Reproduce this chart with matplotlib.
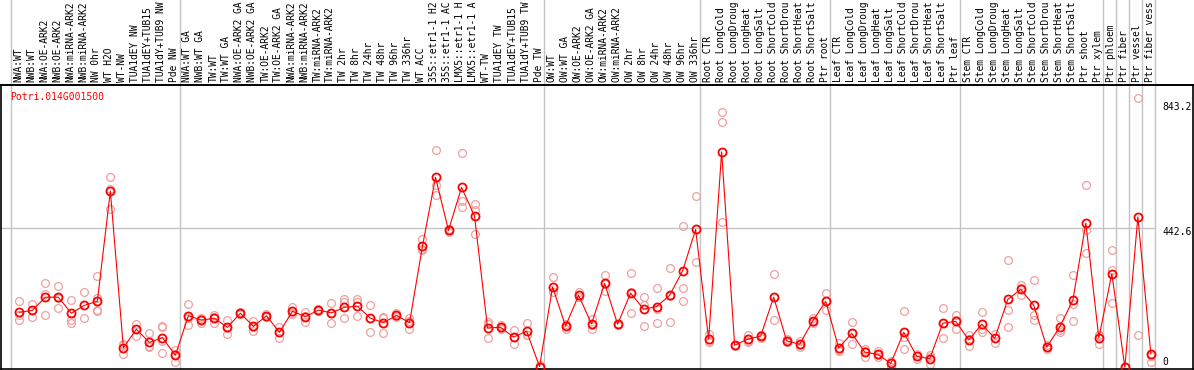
import matplotlib
matplotlib.use("Agg")
import matplotlib.pyplot as plt
from matplotlib.lines import Line2D

gene = "Potri.014G001500"

labels = ["NWA:WT", "NWB:WT", "NWA:OE-ARK2", "NWB:OE-ARK2", "NWA:miRNA-ARK2", "NWB:miRNA-ARK2",
          "NW 0hr", "WT H2O", "WT-NW", "TUA1dEY NW", "TUA1dEY+TUB15 NW", "TUA1dY+TUB9 NW", "Pde NW",
          "NWA:WT GA", "NWB:WT GA", "TW:WT", "TW:WT GA", "NWA:OE-ARK2 GA", "NWB:OE-ARK2 GA",
          "TW:OE-ARK2", "TW:OE-ARK2 GA", "NWA:miRNA-ARK2 GA", "NWB:miRNA-ARK2 GA", "TW:miRNA-ARK2",
          "TW:miRNA-ARK2 GA", "TW 2hr", "TW 8hr", "TW 24hr", "TW 48hr", "TW 96hr", "TW 336hr", "WT ACC",
          "35S::etr1-1 H2O", "35S::etr1-1 ACC", "LMX5::etr1-1 H2O", "LMX5::etr1-1 ACC", "WT-TW",
          "TUA1dEY TW", "TUA1dEY+TUB15 TW", "TUA1dY+TUB9 TW", "Pde TW",
          "OW:WT", "OW:WT GA", "OW:OE-ARK2", "OW:OE-ARK2 GA", "OW:miRNA-ARK2", "OW:miRNA-ARK2 GA",
          "OW 2hr", "OW 8hr", "OW 24hr", "OW 48hr", "OW 96hr", "OW 336hr",
          "Root CTR", "Root LongCold", "Root LongDrought", "Root LongHeat", "Root LongSalt",
          "Root ShortCold", "Root ShortDrought", "Root ShortHeat", "Root ShortSalt", "Ptr root",
          "Leaf CTR", "Leaf LongCold", "Leaf LongDrought", "Leaf LongHeat", "Leaf LongSalt",
          "Leaf ShortCold", "Leaf ShortDrought", "Leaf ShortHeat", "Leaf ShortSalt", "Ptr leaf",
          "Stem CTR", "Stem LongCold", "Stem LongDrought", "Stem LongHeat", "Stem LongSalt",
          "Stem ShortCold", "Stem ShortDrought", "Stem ShortHeat", "Stem ShortSalt", "Ptr shoot",
          "Ptr xylem", "Ptr phloem", "Ptr fiber", "Ptr vessel", "Ptr fiber vessel"]

means = [175, 181, 223, 223, 172, 197, 210, 561, 62, 121, 79, 94, 38,
         164, 150, 156, 127, 172, 130, 164, 111, 178, 161, 182, 173, 191, 194, 156, 142, 165, 142,
         386, 605, 436, 573, 482, 125, 127, 96, 115, 2,
         256, 131, 229, 138, 267, 137, 236, 185, 193, 229, 307, 439,
         89, 686, 70, 89, 99, 223, 84, 73, 147, 210,
         61, 108, 48, 41, 12, 111, 35, 27, 140, 146,
         87, 137, 92, 216, 248, 197, 64, 129, 213, 459, 93,
         298, 0, 479, 42]

reps = [[210, 150, 165], [200, 161, 182], [267, 234, 166], [259, 188, 222], [213, 150, 142], [239, 156],
        [291, 220, 182, 179], [605, 569, 503], [74, 41, 71], [139, 100, 122], [108, 63, 67],
        [132, 127, 84, 46], [55, 18, 41],
        [200, 134, 158], [158, 140, 153], [166, 142, 159], [150, 105, 126], [177, 170, 168],
        [147, 116, 128], [170, 161, 162], [129, 94, 111], [191, 170, 174], [177, 143, 163],
        [184, 180, 183], [204, 140, 174], [216, 208, 156], [217, 207, 162], [198, 111, 158],
        [161, 109, 156], [174, 159, 163], [156, 123, 147], [409, 376, 374], [691, 581, 548],
        [440, 432, 437], [683, 529, 510], [520, 501, 423], [145, 92, 138], [135, 121, 126],
        [119, 73, 97], [140, 103, 103], [6, 0, 0],
        [286, 241, 240], [134, 123, 137], [239, 225, 224], [155, 123, 135], [294, 243, 265],
        [138, 135, 137], [299, 172, 238], [223, 198, 130], [251, 186, 141], [315, 144, 228],
        [449, 251, 210], [546, 334],
        [105, 79, 83], [812, 780, 462], [70, 68, 71], [103, 79, 85], [103, 92, 103], [296, 149, 223],
        [89, 79, 85], [84, 65, 70], [158, 140, 144], [236, 182, 212],
        [78, 52, 54], [143, 73, 108], [58, 34, 51], [52, 34, 38], [21, 2, 14], [179, 58, 97],
        [41, 27, 36], [38, 10, 33], [188, 92, 140], [166, 123, 150],
        [103, 68, 90], [175, 113, 122], [105, 78, 93], [341, 181, 127], [263, 229, 253],
        [277, 165, 150], [71, 57, 65], [156, 111, 120], [293, 202, 147], [580, 436, 363],
        [104, 73, 102],
        [373, 310, 204], [0, 0], [857, 102], [41, 17, 37]]

# first sample of each group (vertical separators)
group_starts = [0, 13, 41, 53, 63, 73, 84, 85, 86, 87, 88]

ymax_label = "843.2"
ymid_label = "442.6"

W, H = 1194, 370
fig = plt.figure(figsize=(W / 100, H / 100), dpi=100)
# plot frame in pixels: x 1..1193, y 85..369 (from top)
ax = fig.add_axes([1 / W, (H - 369) / H, 1192 / W, 284 / H])

mono = "DejaVu Sans Mono"
grey = "#c4c4c4"
pink = "#f0a0a0"

x = list(range(len(means)))
ax.set_xlim(-1.407, 90.24)
ax.set_ylim(-5.7, 899)

for s in group_starts:
    ax.axvline(s - 0.661, ymin=0, ymax=369 / 284, color=grey, lw=1.0, clip_on=False, zorder=1)
ax.plot([-1.407, 87.339], [442.6, 442.6], color=grey, lw=1.0, zorder=1)

for i, r in enumerate(reps):
    ax.plot([i] * len(r), r, "o", ms=5.6, mfc="none", mec=pink, mew=0.9, zorder=2)

ax.plot(x, means, color="red", lw=0.8, zorder=3)
ax.plot(x, means, "o", ms=5.8, mfc="none", mec="red", mew=1.3, zorder=4)

# the header only has room for about 14 characters, as in the original image
for i, lab in enumerate(labels):
    ax.text(i - 0.08, 1 + 2.5 / 284, lab[:14], transform=ax.get_xaxis_transform(), rotation=90,
            ha="center", va="bottom", fontsize=6.9, family=mono, clip_on=False)

ax.text(9 / 1192, (369 - 97) / 284, gene, transform=ax.transAxes, color="red",
        fontsize=7, family=mono, ha="left", va="center")

xr = 87.89
ax.annotate(ymax_label, (xr, 843.2), xytext=(0, -3), textcoords="offset points",
            fontsize=7, family=mono, ha="left", va="center")
ax.annotate(ymid_label, (xr, 442.6), xytext=(0, -3), textcoords="offset points",
            fontsize=7, family=mono, ha="left", va="center")
ax.annotate("0", (xr, 0), xytext=(0, 4), textcoords="offset points",
            fontsize=7, family=mono, ha="left", va="center")

ax.set_xticks([])
ax.set_yticks([])
for sp in ax.spines.values():
    sp.set_color("black")
    sp.set_linewidth(1.2)

# black line across the full width under the labels
fig.add_artist(Line2D([0, 1], [(H - 85) / H, (H - 85) / H], color="black", lw=1.2))

fig.savefig("out.png", dpi=100)
